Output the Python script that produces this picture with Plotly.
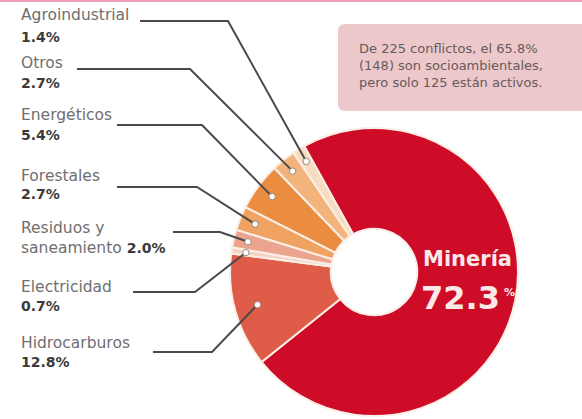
import math
import plotly.graph_objects as go

# ---- data ----
categories = ["Minería", "Hidrocarburos", "Electricidad", "Residuos y saneamiento",
              "Forestales", "Energéticos", "Otros", "Agroindustrial"]
values = [72.3, 12.8, 0.7, 2.0, 2.7, 5.4, 2.7, 1.4]
value_labels = ["72.3", "12.8%", "0.7%", "2.0%", "2.7%", "5.4%", "2.7%", "1.4%"]
note_lines = ["De 225 conflictos, el 65.8%",
              "(148) son socioambientales,",
              "pero solo 125 están activos."]

colors = ["#cf0c27", "#df5c48", "#f4d3c6", "#eba58e",
          "#f0a262", "#ea8d40", "#f3b47c", "#f8dcc0"]

W, H = 582, 419
CX, CY, R = 374, 272, 144
ROT = -29
FONT = "DejaVu Sans"


def px(x):
    return x / W


def py(y):
    return 1 - y / H


fig = go.Figure()
fig.add_trace(go.Pie(
    labels=categories, values=values, sort=False, direction="clockwise",
    rotation=ROT, hole=0.30, textinfo="none", hoverinfo="label+percent",
    marker=dict(colors=colors, line=dict(color="#fbeee6", width=2)),
    domain=dict(x=[px(CX - R), px(CX + R)], y=[py(CY + R), py(CY - R)]),
    showlegend=False,
))

shapes = []
annotations = []

# top pink rule
shapes.append(dict(type="line", xref="paper", yref="paper", x0=0, x1=1,
                   y0=py(1), y1=py(1), line=dict(color="#ee9fb8", width=2)))

# note box (rounded rect)
bx0, bx1, by0, by1, rr = 338, 590, 24, 111, 7
path = (f"M {px(bx0 + rr)},{py(by0)} L {px(bx1 - rr)},{py(by0)} "
        f"Q {px(bx1)},{py(by0)} {px(bx1)},{py(by0 + rr)} "
        f"L {px(bx1)},{py(by1 - rr)} Q {px(bx1)},{py(by1)} {px(bx1 - rr)},{py(by1)} "
        f"L {px(bx0 + rr)},{py(by1)} Q {px(bx0)},{py(by1)} {px(bx0)},{py(by1 - rr)} "
        f"L {px(bx0)},{py(by0 + rr)} Q {px(bx0)},{py(by0)} {px(bx0 + rr)},{py(by0)} Z")
shapes.append(dict(type="path", xref="paper", yref="paper", path=path,
                   fillcolor="#edc8cb", line=dict(width=0), layer="below"))
annotations.append(dict(x=px(357), y=py(66), xref="paper", yref="paper",
                        xanchor="left", yanchor="middle", align="left", showarrow=False,
                        text="<br>".join(note_lines),
                        font=dict(family=FONT, size=13, color="#675a5a")))

# label layout: (category index, name text, pct text, name y, pct y, line start x, line y, elbow x, dot radius frac)
label_layout = [
    (7, "Agroindustrial", value_labels[7], 15, 37, 140, 21, 228, 0.90),
    (6, "Otros", value_labels[6], 63, 83, 77, 69, 190, 0.90),
    (5, "Energéticos", value_labels[5], 115, 135, 117, 125, 202, 0.88),
    (4, "Forestales", value_labels[4], 176, 194, 117, 187, 197, 0.89),
    (3, "Residuos y", None, 228, 248, 173, 232, 220, 0.90),
    (2, "Electricidad", value_labels[2], 287, 306, 133, 292, 195, 0.90),
    (1, "Hidrocarburos", value_labels[1], 343, 362, 153, 352, 212, 0.84),
]

total = sum(values)
cum = [sum(values[:i]) for i in range(len(values))]

for idx, name, pct, ny, pyy, lx, ly, ex, frac in label_layout:
    annotations.append(dict(x=px(19), y=py(ny), xref="paper", yref="paper",
                            xanchor="left", yanchor="middle", showarrow=False,
                            text=name, font=dict(family=FONT, size=15.5, color="#6f6f6f")))
    if pct is not None:
        annotations.append(dict(x=px(19), y=py(pyy), xref="paper", yref="paper",
                                xanchor="left", yanchor="middle", showarrow=False,
                                text=f"<b>{pct}</b>",
                                font=dict(family=FONT, size=14, color="#3a3a3a")))
    else:
        annotations.append(dict(x=px(19), y=py(pyy), xref="paper", yref="paper",
                                xanchor="left", yanchor="middle", showarrow=False,
                                text=("saneamiento <span style='font-size:14px;color:#3a3a3a'><b>"
                                      + value_labels[idx] + "</b></span>"),
                                font=dict(family=FONT, size=15.5, color="#6f6f6f")))
    # dot at slice middle
    a = math.radians(ROT + (cum[idx] + values[idx] / 2) / total * 360)
    dx = CX + R * frac * math.sin(a)
    dy = CY - R * frac * math.cos(a)
    shapes.append(dict(type="path", xref="paper", yref="paper",
                       path=f"M {px(lx)},{py(ly)} L {px(ex)},{py(ly)} L {px(dx)},{py(dy)}",
                       line=dict(color="#4a4a4a", width=2), layer="above"))
    shapes.append(dict(type="circle", xref="paper", yref="paper",
                       x0=px(dx - 3.2), x1=px(dx + 3.2), y0=py(dy + 3.2), y1=py(dy - 3.2),
                       fillcolor="#ffffff", line=dict(color="#9a8a80", width=1), layer="above"))

# Minería label
annotations.append(dict(x=px(421), y=py(259), xref="paper", yref="paper",
                        xanchor="left", yanchor="middle", showarrow=False,
                        text="<b>" + categories[0] + "</b>",
                        font=dict(family=FONT, size=21, color="#fbe9ea")))
annotations.append(dict(x=px(419), y=py(298), xref="paper", yref="paper",
                        xanchor="left", yanchor="middle", showarrow=False,
                        text="<b>" + value_labels[0] + "</b>",
                        font=dict(family=FONT, size=32, color="#fbe9ea")))
annotations.append(dict(x=px(502), y=py(292), xref="paper", yref="paper",
                        xanchor="left", yanchor="middle", showarrow=False,
                        text="<b>%</b>", font=dict(family=FONT, size=11, color="#fbe9ea")))

fig.update_layout(
    width=W, height=H, margin=dict(l=0, r=0, t=0, b=0),
    paper_bgcolor="#ffffff", plot_bgcolor="#ffffff",
    shapes=shapes, annotations=annotations,
)

fig.write_html("out.html", config={"displayModeBar": False},
               post_script="document.body.style.margin='0';document.body.style.overflow='hidden';")
